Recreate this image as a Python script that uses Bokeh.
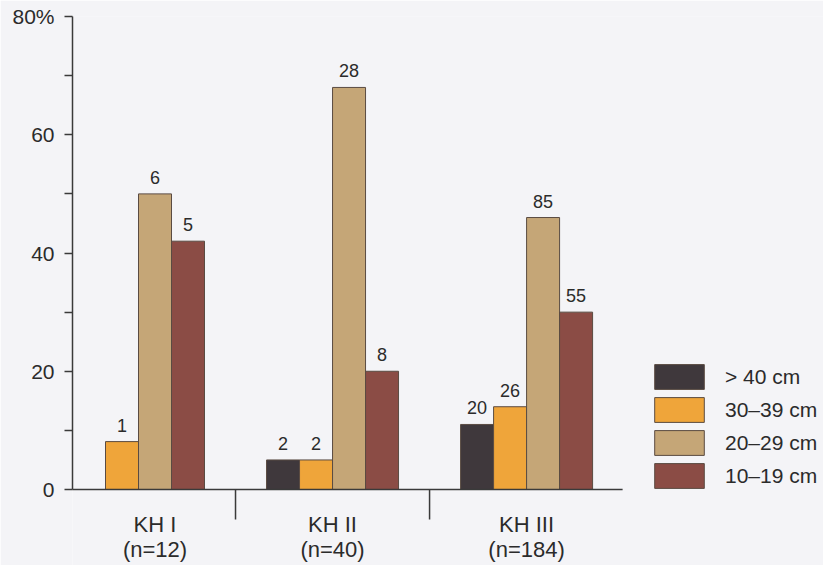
from bokeh.plotting import figure
from bokeh.models import Range1d, FixedTicker, ColumnDataSource, LabelSet, Legend, LegendItem
from bokeh.embed import file_html
from bokeh.resources import INLINE
from bokeh.core.properties import value

# ---------------- data ----------------
groups = ["KH I", "KH II", "KH III"]
group_n = ["(n=12)", "(n=40)", "(n=184)"]
series = ["> 40 cm", "30–39 cm", "20–29 cm", "10–19 cm"]
colors = ["#3f383c", "#efa53a", "#c5a677", "#8b4c45"]

pct_gt40 = [None, 5.0, 11.0]
pct_30_39 = [8.1, 5.0, 14.0]
pct_20_29 = [50.0, 68.0, 46.0]
pct_10_19 = [42.0, 20.0, 30.0]

cnt_gt40 = [None, 2, 20]
cnt_30_39 = [1, 2, 26]
cnt_20_29 = [6, 28, 85]
cnt_10_19 = [5, 8, 55]

y_ticks = [0, 20, 40, 60, 80]
y_minor = [10, 30, 50, 70]
y_tick_labels = ["0", "20", "40", "60", "80%"]

# ---------------- layout / style ----------------
FONT = "Liberation Sans"
BG = "#f4f4f7"
TXT = "#2b2b2b"
AXIS = "#3a3a3a"
EDGE = "#5a4b42"

W, H = 823, 565
LEFT, TOP = 72, 16
Y0_PX = 489
PX_PER_UNIT = (Y0_PX - TOP) / 80.0
y_start = -(H - Y0_PX) / PX_PER_UNIT
SLOT_PX = 33.0
GROUP_STEP = 5.88
x_end = (W - LEFT) / SLOT_PX
AXIS_END = 16.67
SEP_PX = 30

p = figure(width=W, height=H, x_range=Range1d(0, x_end), y_range=Range1d(y_start, 80),
           output_backend="svg", toolbar_location=None, x_axis_location=None,
           min_border_left=LEFT, min_border_right=0, min_border_top=TOP, min_border_bottom=0,
           background_fill_color=BG, border_fill_color=BG, outline_line_color=None)
p.xgrid.visible = False
p.ygrid.visible = False

ya = p.yaxis[0]
ya.ticker = FixedTicker(ticks=y_ticks, minor_ticks=y_minor)
ya.bounds = (0, 80)
ya.major_label_overrides = {t: l for t, l in zip(y_ticks, y_tick_labels)}
ya.major_tick_in = 0
ya.major_tick_out = 8
ya.minor_tick_in = 0
ya.minor_tick_out = 8
ya.axis_line_color = AXIS
ya.axis_line_width = 1.5
ya.major_tick_line_color = AXIS
ya.major_tick_line_width = 1.5
ya.minor_tick_line_color = AXIS
ya.minor_tick_line_width = 1.5
ya.major_label_standoff = 10
ya.major_label_text_font = FONT
ya.major_label_text_font_size = "21px"
ya.major_label_text_color = TXT

series_pct = [pct_gt40, pct_30_39, pct_20_29, pct_10_19]
series_cnt = [cnt_gt40, cnt_30_39, cnt_20_29, cnt_10_19]

legend_items = []
for s, (name, color, pcts, cnts) in enumerate(zip(series, colors, series_pct, series_cnt)):
    xs, tops, labels = [], [], []
    for g, (v, c) in enumerate(zip(pcts, cnts)):
        if v is None:
            continue
        xs.append(g * GROUP_STEP + s + 0.5)
        tops.append(v)
        labels.append(str(c))
    src = ColumnDataSource(dict(x=xs, top=tops, label=labels))
    r = p.vbar(x="x", top="top", bottom=0, width=1, source=src,
               fill_color=color, line_color=EDGE, line_width=1)
    legend_items.append(LegendItem(label=name, renderers=[r]))
    p.add_layout(LabelSet(x="x", y="top", text="label", source=src, text_align="center",
                          text_baseline="alphabetic", y_offset=10, text_font=value(FONT),
                          text_font_size="18px", text_color=TXT))

# x axis line and group separators
p.segment(x0=[-1], y0=[0], x1=[AXIS_END], y1=[0], line_color=AXIS, line_width=1.5)
sep_x = [(g * GROUP_STEP + 4 + (g + 1) * GROUP_STEP) / 2 for g in range(len(groups) - 1)]
p.segment(x0=sep_x, y0=[0] * len(sep_x), x1=sep_x, y1=[-SEP_PX / PX_PER_UNIT] * len(sep_x),
          line_color=AXIS, line_width=1.5)

# group labels
label_x = []
for g in range(len(groups)):
    cs = [g * GROUP_STEP + s + 0.5 for s, pcts in enumerate(series_pct) if pcts[g] is not None]
    label_x.append(sum(cs) / len(cs))
gsrc = ColumnDataSource(dict(x=label_x, y=[0] * len(groups), name=groups, n=group_n))
p.add_layout(LabelSet(x="x", y="y", text="name", source=gsrc, text_align="center",
                      text_baseline="middle", y_offset=-35, text_font=value(FONT),
                      text_font_size="22px", text_color=TXT))
p.add_layout(LabelSet(x="x", y="y", text="n", source=gsrc, text_align="center",
                      text_baseline="middle", y_offset=-60, text_font=value(FONT),
                      text_font_size="22px", text_color=TXT))

# legend glyphs are inset by 10% of their box, so the box is enlarged accordingly
GW, GH = 62, 31
legend = Legend(items=legend_items,
                location=(int(round(654 - LEFT - GW * 0.1)), int(round(H - 488 - GH * 0.1))),
                glyph_width=GW, glyph_height=GH,
                spacing=2, label_standoff=15, padding=0, margin=0,
                border_line_color=None, background_fill_alpha=0,
                label_text_font=FONT, label_text_font_size="21px", label_text_color=TXT)
p.add_layout(legend)

open("out.html", "w").write(file_html(p, INLINE))
